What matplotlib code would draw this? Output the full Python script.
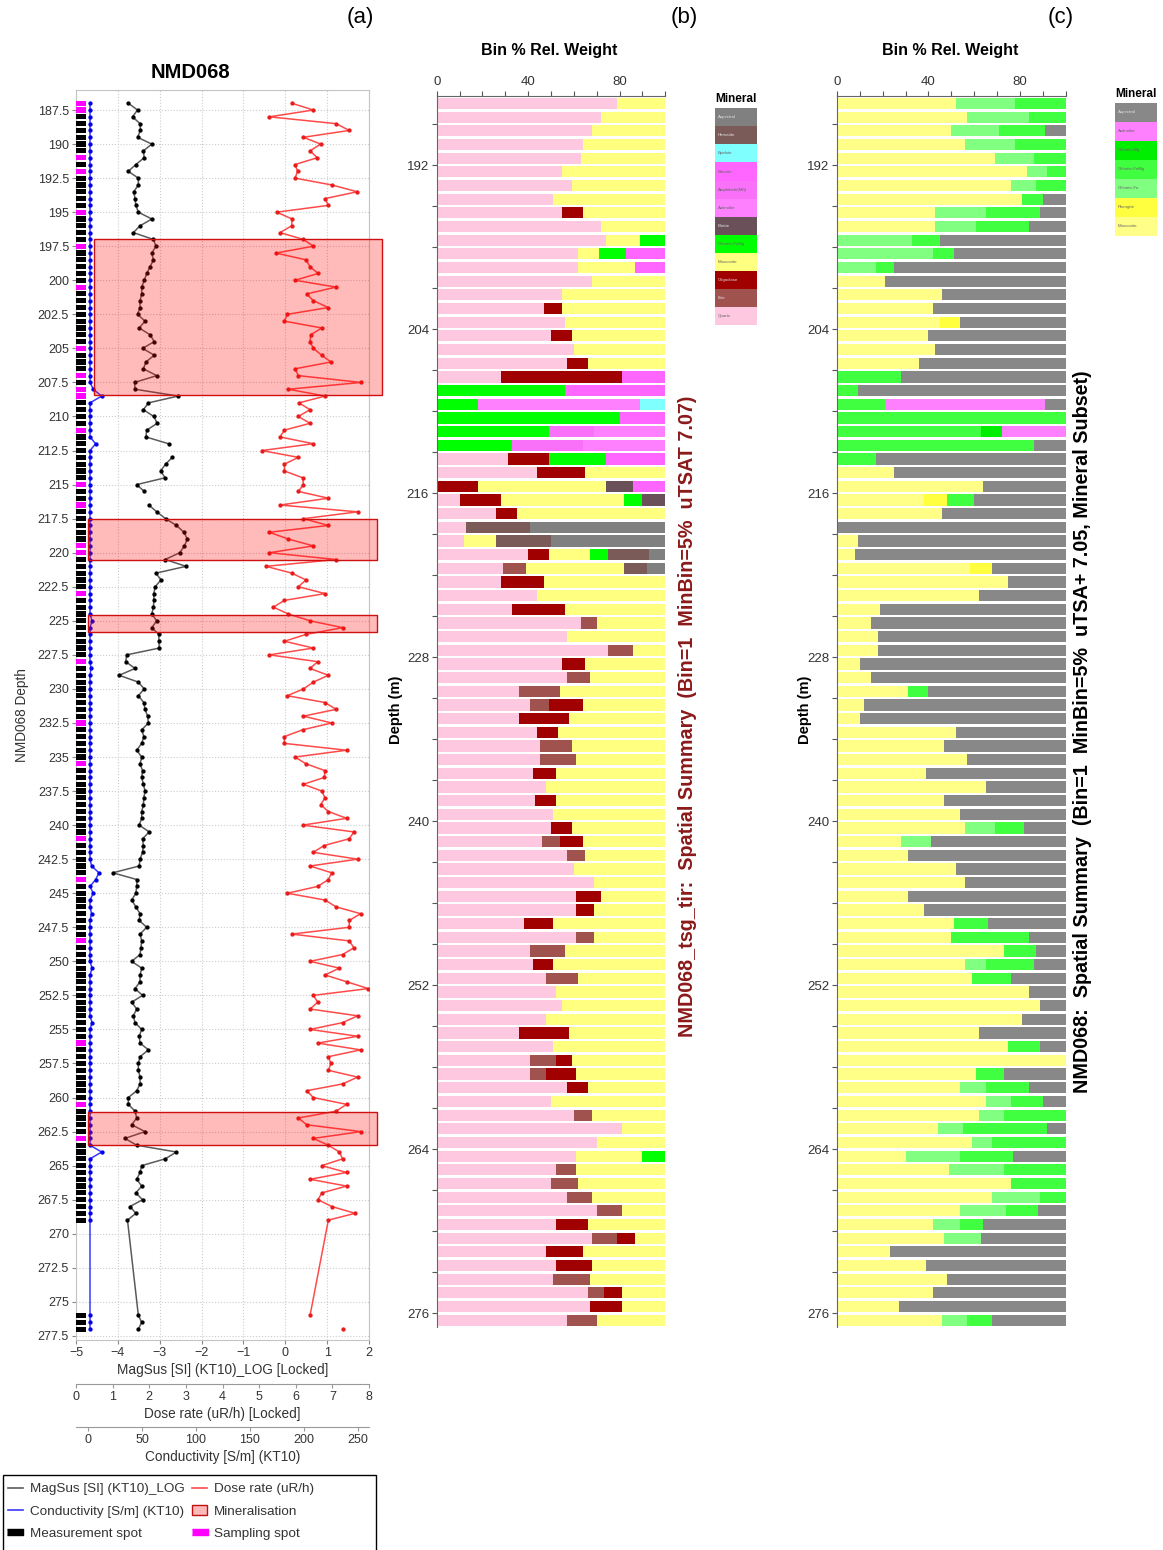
import numpy as np
import matplotlib
matplotlib.use('Agg')
import matplotlib.pyplot as plt
import matplotlib.transforms as mtransforms
from matplotlib.patches import Rectangle, Patch
from matplotlib.lines import Line2D

plt.rcParams['font.family'] = ['Liberation Sans', 'DejaVu Sans']

# ---------------------------------------------------------------------------
# (a) downhole logs, NMD068
# ---------------------------------------------------------------------------
magsus_depth_1 = np.arange(187.0, 212.01, 0.5)
magsus_1 = [-3.75, -3.53, -3.65, -3.47, -3.46, -3.53, -3.19, -3.39, -3.37, -3.57,
            -3.75, -3.51, -3.51, -3.62, -3.59, -3.57, -3.51, -3.19, -3.47, -3.63,
            -3.15, -3.09, -3.19, -3.15, -3.23, -3.31, -3.37, -3.43, -3.43, -3.47,
            -3.47, -3.53, -3.35, -3.49, -3.23, -3.13, -3.41, -3.13, -3.33, -3.39,
            -3.07, -3.60, -3.59, -2.56, -3.27, -3.39, -3.14, -3.06, -3.31, -3.33,
            -2.79]
magsus_depth_2 = np.arange(213.0, 215.51, 0.5)
magsus_2 = [-2.70, -2.86, -2.98, -2.87, -3.55, -3.37]
magsus_depth_3 = np.concatenate([np.arange(216.5, 269.01, 0.5), [276.0, 276.5, 277.0]])
magsus_3 = [-3.26, -3.07, -2.86, -2.60, -2.42, -2.34, -2.41, -2.52, -2.87, -2.37,
            -3.09, -2.97, -3.11, -3.14, -3.14, -3.15, -3.19, -3.07, -3.19, -3.02,
            -3.02, -3.01, -3.79, -3.81, -3.59, -3.97, -3.51, -3.37, -3.51, -3.38,
            -3.35, -3.29, -3.27, -3.43, -3.38, -3.43, -3.55, -3.43, -3.47, -3.41,
            -3.43, -3.39, -3.35, -3.38, -3.39, -3.43, -3.43, -3.49, -3.25, -3.41,
            -3.39, -3.41, -3.47, -3.49, -4.12, -3.54, -3.55, -3.57, -3.67, -3.57,
            -3.47, -3.49, -3.31, -3.47, -3.43, -3.45, -3.47, -3.67, -3.43, -3.47,
            -3.47, -3.59, -3.41, -3.67, -3.55, -3.63, -3.59, -3.43, -3.49, -3.47,
            -3.27, -3.47, -3.51, -3.51, -3.47, -3.47, -3.55, -3.75, -3.75, -3.59,
            -3.55, -3.67, -3.35, -3.83, -3.55, -2.60, -2.87, -3.43, -3.47, -3.55,
            -3.43, -3.57, -3.41, -3.71, -3.57, -3.77,
            -3.51, -3.43, -3.51]

dose_depth = np.concatenate([np.arange(187.0, 269.01, 0.5), [276.0]])
dose = [5.89, 6.48, 5.28, 7.10, 7.46, 6.21, 6.68, 6.39, 6.59, 5.98,
        6.05, 5.98, 6.98, 7.68, 6.80, 6.89, 5.48, 5.90, 5.89, 5.57,
        6.21, 6.48, 5.46, 6.28, 6.39, 6.61, 5.98, 7.10, 6.30, 6.48,
        6.89, 5.77, 5.69, 6.71, 6.41, 6.39, 6.48, 6.71, 6.96, 5.98,
        6.07, 7.78, 5.80,
        6.80, 6.09, 6.39, 6.07, 6.39, 5.69, 5.57, 6.48, 5.07, 6.07,
        5.69, 5.69, 6.19, 6.21, 6.07, 6.89, 5.57, 7.69, 6.21, 6.89,
        5.28, 5.80, 6.48, 5.28, 7.10, 5.19, 5.89, 6.28, 6.07, 6.80,
        5.69, 5.39, 5.80, 6.39, 7.28, 6.28, 5.69, 6.48, 5.28, 6.60,
        6.39, 6.89, 6.48, 6.21, 5.77, 6.80, 7.10, 6.21, 6.98, 6.19,
        5.69, 5.69, 7.39, 5.98,
        6.28, 6.80, 6.78,
        6.21, 6.71, 6.80, 6.68, 6.89, 7.39, 6.19, 7.59, 7.46, 6.77,
        6.48, 7.69, 6.39, 6.98, 6.89, 6.60, 5.77, 6.80, 7.10, 7.77,
        7.46, 7.46, 5.89, 7.46, 7.59, 7.28, 6.39, 7.19, 6.80, 7.39,
        7.98, 6.48, 6.60, 6.39, 7.69, 7.28, 6.39, 7.69, 6.60, 7.77,
        6.89, 6.96, 6.89, 7.69, 7.28, 6.30, 6.48, 7.39, 7.10, 6.07,
        6.30, 7.78, 6.48, 6.89, 7.19, 7.28, 6.71, 7.39, 6.39,
        7.39, 6.71, 6.61, 6.98, 7.62, 6.89,
        6.39]
dose_lone_depth = [277.0]
dose_lone = [7.28]

cond_depth = np.concatenate([np.arange(187.0, 269.01, 0.5), [276.0, 276.5, 277.0]])
cond = [1.6, 1.6, 1.6, 1.6, 1.6, 1.6, 1.6, 1.6, 1.6, 1.6,
        1.6, 1.6, 1.6, 1.6, 1.6, 1.6, 1.6, 1.6, 1.6, 1.6,
        1.6, 1.6, 1.6, 1.6, 1.6, 1.6, 1.6, 1.6, 1.6, 1.6,
        1.6, 1.6, 1.6, 1.6, 1.6, 1.6, 1.6, 1.6, 1.6, 1.6,
        1.6, 1.6, 4.6, 12.4, 1.6, 1.6, 1.6, 1.6, 1.6, 1.6,
        6.8, 1.6, 1.6, 1.6, 1.6, 1.6, 1.6, 1.6, 1.6, 1.6,
        1.6, 1.6, 1.6, 1.6, 1.6, 1.6, 1.6, 1.6, 1.6, 1.6,
        1.6, 1.6, 1.6, 1.6, 1.6, 1.6, 3.5, 1.6, 1.6, 1.6,
        1.6, 1.6, 1.6, 2.5, 1.6, 1.6, 1.6, 1.6, 1.6, 1.6,
        1.6, 1.6, 1.6, 1.6, 1.6, 1.6, 1.6, 1.6, 1.6, 1.6,
        1.6, 1.6, 1.6, 1.6, 1.6, 1.6, 1.6, 1.6, 1.6, 1.6,
        1.6, 1.6, 3.1, 9.9, 6.8, 1.6, 4.6, 1.6, 1.6, 3.0,
        1.6, 1.6, 1.6, 1.6, 1.6, 1.6, 1.6, 3.5, 1.6, 1.6,
        1.6, 1.6, 1.6, 1.6, 1.6, 3.5, 1.6, 1.6, 1.6, 1.6,
        1.6, 1.6, 1.6, 1.6, 1.6, 1.6, 1.6, 1.6, 1.6, 1.6,
        1.6, 1.6, 1.6, 1.6, 12.4, 1.6, 1.6, 1.6, 1.6, 1.6,
        1.6, 1.6, 1.6, 1.6, 1.6,
        1.6, 1.6, 1.6]

spot_depth = cond_depth
sample_depth = [187.0, 187.5, 191.0, 192.0, 195.0, 197.5, 200.5, 205.0, 207.0, 208.0,
                208.5, 211.0, 215.0, 216.5, 219.5, 220.0, 223.0, 228.0, 232.5, 235.5,
                241.0, 244.0, 248.5, 256.0, 260.5, 263.0]

mineral_top = [197.0, 217.55, 224.6, 261.05]
mineral_bottom = [208.4, 220.5, 225.85, 263.5]

# ---------------------------------------------------------------------------
# (b) TIR spatial summary, (c) SWIR mineral subset: 1 m bins from 187 m
# ---------------------------------------------------------------------------
bin_depth = np.arange(187.5, 277.0, 1.0)

tir_names = ['Aspectral', 'Hematite', 'Epidote', 'Edenite', 'Amphibole(Mlt)', 'Actinolite',
             'Biotite', 'Chlorite-FeMg', 'Muscovite', 'Oligoclase', 'Illite', 'Quartz']
tir_codes = ['X', 'H', 'P', 'E', 'A', 'T', 'B', 'C', 'M', 'O', 'I', 'Q']
tir_colours = ['#808080', '#7b5b57', '#80ffff', '#ff66ff', '#f970f9', '#ff80ff',
               '#6a5058', '#00ff00', '#ffff80', '#a00000', '#a0524f', '#ffc8e1']

tir_rows = [
    [('Q', 79), ('M', 21)], [('Q', 72), ('M', 28)], [('Q', 68), ('M', 32)],
    [('Q', 64), ('M', 36)], [('Q', 63), ('M', 37)], [('Q', 55), ('M', 45)],
    [('Q', 59), ('M', 41)], [('Q', 51), ('M', 49)], [('Q', 55), ('O', 9), ('M', 36)],
    [('Q', 72), ('M', 28)], [('Q', 74), ('M', 15), ('C', 11)],
    [('Q', 62), ('M', 9), ('C', 12), ('E', 17)], [('Q', 62), ('M', 25), ('E', 13)],
    [('Q', 68), ('M', 32)], [('Q', 55), ('M', 45)], [('Q', 47), ('O', 8), ('M', 45)],
    [('Q', 56), ('M', 44)], [('Q', 50), ('O', 9), ('M', 41)], [('Q', 60), ('M', 40)],
    [('Q', 57), ('O', 9), ('M', 34)], [('Q', 28), ('O', 53), ('E', 19)],
    [('C', 56), ('E', 44)], [('C', 18), ('T', 71), ('P', 11)], [('C', 80), ('E', 20)],
    [('C', 49), ('A', 20), ('T', 31)], [('C', 33), ('A', 31), ('T', 36)],
    [('Q', 31), ('O', 18), ('C', 25), ('E', 26)], [('Q', 44), ('O', 21), ('M', 35)],
    [('O', 18), ('M', 56), ('B', 12), ('E', 14)],
    [('Q', 10), ('O', 18), ('M', 54), ('C', 8), ('B', 10)],
    [('Q', 26), ('O', 9), ('M', 65)], [('Q', 13), ('H', 28), ('X', 59)],
    [('Q', 12), ('M', 14), ('H', 24), ('X', 50)],
    [('Q', 40), ('O', 9), ('M', 18), ('C', 8), ('H', 18), ('X', 7)],
    [('Q', 29), ('I', 10), ('M', 43), ('H', 10), ('X', 8)],
    [('Q', 28), ('O', 19), ('M', 53)], [('Q', 44), ('M', 56)],
    [('Q', 33), ('O', 23), ('M', 44)], [('Q', 63), ('I', 7), ('M', 30)],
    [('Q', 57), ('M', 43)], [('Q', 75), ('I', 11), ('M', 14)],
    [('Q', 55), ('O', 10), ('M', 35)], [('Q', 57), ('I', 10), ('M', 33)],
    [('Q', 36), ('I', 18), ('M', 46)], [('Q', 41), ('I', 8), ('O', 15), ('M', 36)],
    [('Q', 36), ('O', 22), ('M', 42)], [('Q', 44), ('O', 9), ('M', 47)],
    [('Q', 45), ('I', 14), ('M', 41)], [('Q', 45), ('I', 16), ('M', 39)],
    [('Q', 42), ('O', 10), ('M', 48)], [('Q', 48), ('M', 52)],
    [('Q', 43), ('O', 9), ('M', 48)], [('Q', 51), ('M', 49)],
    [('Q', 50), ('O', 9), ('M', 41)], [('Q', 46), ('I', 8), ('O', 10), ('M', 36)],
    [('Q', 57), ('I', 8), ('M', 35)], [('Q', 60), ('M', 40)], [('Q', 69), ('M', 31)],
    [('Q', 61), ('O', 11), ('M', 28)], [('Q', 61), ('O', 8), ('M', 31)],
    [('Q', 38), ('O', 13), ('M', 49)], [('Q', 61), ('I', 8), ('M', 31)],
    [('Q', 41), ('I', 15), ('M', 44)], [('Q', 42), ('O', 9), ('M', 49)],
    [('Q', 48), ('I', 14), ('M', 38)], [('Q', 52), ('M', 48)], [('Q', 55), ('M', 45)],
    [('Q', 48), ('M', 52)], [('Q', 36), ('O', 22), ('M', 42)], [('Q', 51), ('M', 49)],
    [('Q', 41), ('I', 11), ('O', 7), ('M', 41)], [('Q', 41), ('I', 7), ('O', 13), ('M', 39)],
    [('Q', 57), ('O', 9), ('M', 34)], [('Q', 50), ('M', 50)],
    [('Q', 60), ('I', 8), ('M', 32)], [('Q', 81), ('M', 19)], [('Q', 70), ('M', 30)],
    [('Q', 61), ('M', 29), ('C', 10)], [('Q', 52), ('I', 9), ('M', 39)],
    [('Q', 50), ('I', 12), ('M', 38)], [('Q', 57), ('I', 11), ('M', 32)],
    [('Q', 70), ('I', 11), ('M', 19)], [('Q', 52), ('O', 14), ('M', 34)],
    [('Q', 68), ('I', 11), ('O', 8), ('M', 13)], [('Q', 48), ('O', 16), ('M', 36)],
    [('Q', 52), ('O', 16), ('M', 32)], [('Q', 51), ('I', 16), ('M', 33)],
    [('Q', 66), ('I', 7), ('O', 8), ('M', 19)], [('Q', 67), ('O', 14), ('M', 19)],
    [('Q', 57), ('I', 13), ('M', 30)],
]

swir_names = ['Aspectral', 'Actinolite', 'Chlorite-Mg', 'Chlorite-FeMg', 'Chlorite-Fe',
              'Phengite', 'Muscovite']
swir_codes = ['X', 'T', 'G', 'F', 'L', 'P', 'M']
swir_colours = ['#888888', '#ff80ff', '#00ee00', '#40ff40', '#80ff80', '#ffff40', '#ffff88']

swir_rows = [
    [('M', 52), ('L', 26), ('F', 22)], [('M', 57), ('L', 27), ('F', 16)],
    [('M', 50), ('L', 21), ('F', 20), ('X', 9)], [('M', 56), ('L', 22), ('F', 22)],
    [('M', 69), ('L', 17), ('F', 14)], [('M', 83), ('L', 9), ('F', 8)],
    [('M', 76), ('L', 11), ('F', 13)], [('M', 81), ('F', 9), ('X', 10)],
    [('M', 43), ('L', 22), ('F', 24), ('X', 11)], [('M', 43), ('L', 18), ('F', 23), ('X', 16)],
    [('L', 33), ('F', 12), ('X', 55)], [('L', 42), ('F', 9), ('X', 49)],
    [('L', 17), ('F', 8), ('X', 75)], [('M', 21), ('X', 79)], [('M', 46), ('X', 54)],
    [('M', 42), ('X', 58)], [('M', 45), ('P', 9), ('X', 46)], [('M', 40), ('X', 60)],
    [('M', 43), ('X', 57)], [('M', 36), ('X', 64)], [('F', 28), ('X', 72)],
    [('F', 9), ('X', 91)], [('F', 21), ('T', 70), ('X', 9)], [('F', 100)],
    [('F', 63), ('G', 9), ('T', 28)], [('F', 86), ('X', 14)], [('F', 17), ('X', 83)],
    [('M', 25), ('X', 75)], [('M', 64), ('X', 36)],
    [('M', 38), ('P', 10), ('F', 12), ('X', 40)], [('M', 46), ('X', 54)], [('X', 100)],
    [('M', 9), ('X', 91)], [('M', 8), ('X', 92)], [('M', 58), ('P', 10), ('X', 32)],
    [('M', 75), ('X', 25)], [('M', 62), ('X', 38)], [('M', 19), ('X', 81)],
    [('M', 15), ('X', 85)], [('M', 18), ('X', 82)], [('M', 18), ('X', 82)],
    [('M', 10), ('X', 90)], [('M', 15), ('X', 85)], [('M', 31), ('F', 9), ('X', 60)],
    [('M', 12), ('X', 88)], [('M', 10), ('X', 90)], [('M', 52), ('X', 48)],
    [('M', 47), ('X', 53)], [('M', 57), ('X', 43)], [('M', 39), ('X', 61)],
    [('M', 65), ('X', 35)], [('M', 47), ('X', 53)], [('M', 54), ('X', 46)],
    [('M', 56), ('L', 13), ('F', 13), ('X', 18)], [('M', 28), ('L', 13), ('X', 59)],
    [('M', 31), ('X', 69)], [('M', 52), ('X', 48)], [('M', 56), ('X', 44)],
    [('M', 31), ('X', 69)], [('M', 38), ('X', 62)], [('M', 51), ('F', 15), ('X', 34)],
    [('M', 50), ('F', 34), ('X', 16)], [('M', 73), ('F', 14), ('X', 13)],
    [('M', 56), ('L', 9), ('F', 21), ('X', 14)], [('M', 59), ('F', 17), ('X', 24)],
    [('M', 84), ('X', 16)], [('M', 89), ('X', 11)], [('M', 81), ('X', 19)],
    [('M', 62), ('X', 38)], [('M', 75), ('F', 14), ('X', 11)], [('M', 100)],
    [('M', 61), ('F', 12), ('X', 27)], [('M', 54), ('L', 11), ('F', 19), ('X', 16)],
    [('M', 65), ('L', 11), ('F', 14), ('X', 10)], [('M', 62), ('L', 11), ('F', 27)],
    [('M', 44), ('L', 11), ('F', 37), ('X', 8)], [('M', 59), ('L', 9), ('F', 32)],
    [('M', 30), ('L', 24), ('F', 23), ('X', 23)], [('M', 49), ('L', 24), ('F', 27)],
    [('M', 76), ('F', 24)], [('M', 68), ('L', 21), ('F', 11)],
    [('M', 54), ('L', 20), ('F', 14), ('X', 12)], [('M', 42), ('L', 12), ('F', 10), ('X', 36)],
    [('M', 47), ('L', 16), ('X', 37)], [('M', 23), ('X', 77)], [('M', 39), ('X', 61)],
    [('M', 48), ('X', 52)], [('M', 42), ('X', 58)], [('M', 27), ('X', 73)],
    [('M', 46), ('L', 11), ('F', 11), ('X', 32)],
]

# ---------------------------------------------------------------------------
W, H = 1163, 1550
fig = plt.figure(figsize=(W / 100, H / 100), dpi=100)


def box(x0, y0, x1, y1):
    # pixel box (top-left origin) -> figure rect
    return [x0 / W, 1 - y1 / H, (x1 - x0) / W, (y1 - y0) / H]


TXT = '#333333'

# ---------------- panel (a) ----------------
ax = fig.add_axes(box(76, 90, 369, 1340))
ax.set_xlim(-5, 2)
ax.set_ylim(277.8, 186.03)
ax.set_xticks(range(-5, 3))
ax.set_yticks(np.arange(187.5, 277.6, 2.5))
ax.set_yticklabels([f'{v:g}' for v in np.arange(187.5, 277.6, 2.5)])
ax.grid(True, ls=':', color='#cccccc', lw=0.8)
ax.set_axisbelow(True)
ax.tick_params(labelsize=9, labelcolor=TXT, length=3, color='#888888', pad=2)
for s in ax.spines.values():
    s.set_color('#c4c4c4')
ax.set_xlabel('MagSus [SI] (KT10)_LOG [Locked]', fontsize=9.8, color=TXT, labelpad=3)
ax.set_ylabel('NMD068 Depth', fontsize=9.8, color=TXT, labelpad=6)

# measurement / sampling spots
ax.barh(spot_depth, 0.24, left=-5, height=0.38, color='black', zorder=3)
ax.barh(sample_depth, 0.24, left=-5, height=0.38, color='#ff00ff', zorder=4)

for d, v in [(magsus_depth_1, magsus_1), (magsus_depth_2, magsus_2), (magsus_depth_3, magsus_3)]:
    ax.plot(v, d, color='#5a5a5a', lw=1.1, marker='o', ms=2.1, mfc='black', mec='black', zorder=5)

axd = ax.twiny()
axc = ax.twiny()
for a, off, lim, ticks, lab in [(axd, 31.7, (0, 8), range(0, 9), 'Dose rate (uR/h) [Locked]'),
                                (axc, 62.4, (-11.4, 260.5), range(0, 251, 50), 'Conductivity [S/m] (KT10)')]:
    a.set_xlim(*lim)
    a.set_xticks(list(ticks))
    a.xaxis.set_ticks_position('bottom')
    a.xaxis.set_label_position('bottom')
    a.spines['bottom'].set_position(('outward', off))
    a.spines['bottom'].set_color('#999999')
    for s in ['top', 'left', 'right']:
        a.spines[s].set_visible(False)
    a.tick_params(labelsize=9, labelcolor=TXT, length=3, color='#999999', pad=2)
    a.set_xlabel(lab, fontsize=9.8, color=TXT, labelpad=3)

axd.plot(dose, dose_depth, color='#ff4a4a', lw=1.1, marker='o', ms=2.1, mfc='#e81c1c', mec='#e81c1c')
axd.plot(dose_lone, dose_lone_depth, ls='none', marker='o', ms=2.1, color='#e81c1c')
axc.plot(cond, cond_depth, color='#3a3aff', lw=1.1, marker='o', ms=2.1, mfc='#0000ee', mec='#0000ee')

# mineralised intervals, drawn over the curves and past the right edge
trans = mtransforms.blended_transform_factory(axc.transAxes, axc.transData)
box_x = [(0.0625, 1.045), (0.042, 1.026), (0.042, 1.026), (0.042, 1.026)]
for (x0, x1), top, bot in zip(box_x, mineral_top, mineral_bottom):
    axc.add_patch(Rectangle((x0, top), x1 - x0, bot - top, transform=trans, clip_on=False,
                            fc=(1, 0, 0, 0.27), ec='#d01010', lw=1.0, zorder=10))

fig.text(190 / W, 1 - 72 / H, 'NMD068', fontsize=14.5, fontweight='bold', ha='center', va='center')

# legend box runs off the bottom of the page
fig.patches.append(Rectangle((3 / W, -0.01), 373 / W, 0.01 + 1 - 1475 / H,
                             transform=fig.transFigure, fc='white', ec='black', lw=1.0))
spot = [(-1, -0.45), (1, -0.45), (1, 0.45), (-1, 0.45)]
handles = [Line2D([], [], color='#5a5a5a', lw=1.2),
           Line2D([], [], color='#3a3aff', lw=1.2),
           Line2D([], [], ls='none', marker=spot, ms=11, color='black'),
           Line2D([], [], color='#ff4a4a', lw=1.2),
           Patch(fc='#ffb8b8', ec='#c01010', lw=1.0),
           Line2D([], [], ls='none', marker=spot, ms=11, color='#ff00ff')]
labels = ['MagSus [SI] (KT10)_LOG', 'Conductivity [S/m] (KT10)', 'Measurement spot',
          'Dose rate (uR/h)', 'Mineralisation', 'Sampling spot']
leg = fig.legend(handles, labels, loc='upper left', bbox_to_anchor=(8 / W, 1 - 1483 / H),
                 ncol=2, fontsize=9.7, frameon=False, handlelength=1.1,
                 handletextpad=0.5, columnspacing=0.6, labelspacing=0.72, borderpad=0,
                 borderaxespad=0)
for t in leg.get_texts():
    t.set_color(TXT)


# ---------------- panels (b) and (c) ----------------
def summary_panel(x0, rows, codes, colours):
    a = fig.add_axes(box(x0, 95.7, x0 + 228.5, 1327))
    col = dict(zip(codes, colours))
    for yc, row in zip(bin_depth, rows):
        left = 0
        for code, pct in row:
            a.barh(yc, pct, left=left, height=0.82, color=col[code], linewidth=0)
            left += pct
    a.set_xlim(0, 100)
    a.set_ylim(277.0, 186.93)
    a.xaxis.tick_top()
    a.set_xticks([0, 40, 80])
    a.set_xticks(range(0, 101, 10), minor=True)
    a.set_yticks(range(192, 277, 12))
    a.set_yticks(range(189, 277, 3), minor=True)
    a.tick_params(which='both', length=3.5, width=0.8, color='#555555',
                  labelsize=9.5, labelcolor=TXT, pad=2)
    for s in ['right', 'bottom']:
        a.spines[s].set_visible(False)
    for s in ['left', 'top']:
        a.spines[s].set_color('#666666')
        a.spines[s].set_linewidth(0.8)
    return a


def mineral_key(x0, y0, y1, title_y, names, colours):
    k = fig.add_axes(box(x0, y0, x0 + 42, y1))
    k.set_xlim(0, 1)
    k.set_ylim(len(names), 0)
    k.axis('off')
    for i, (n, c) in enumerate(zip(names, colours)):
        k.add_patch(Rectangle((0, i), 1, 1, fc=c, ec='none'))
        dark = c in ('#808080', '#888888', '#7b5b57', '#6a5058', '#a00000', '#a0524f')
        k.text(0.07, i + 0.5, n, fontsize=3.2, va='center', ha='left',
               color='#e0e0e0' if dark else '#666666')
    fig.text((x0 + 21) / W, 1 - title_y / H, 'Mineral', fontsize=8.5, fontweight='bold',
             ha='center', va='center')


summary_panel(436.7, tir_rows, tir_codes, tir_colours)
summary_panel(837.0, swir_rows, swir_codes, swir_colours)
mineral_key(715, 108.3, 325, 99, tir_names, tir_colours)
mineral_key(1115, 102.7, 236, 94, swir_names, swir_colours)

for xc in (549, 950):
    fig.text(xc / W, 1 - 51 / H, 'Bin % Rel. Weight', fontsize=11.5, fontweight='bold',
             ha='center', va='center')
for xc in (396, 805):
    fig.text(xc / W, 1 - 710 / H, 'Depth (m)', fontsize=10.5, fontweight='bold',
             rotation=90, ha='center', va='center')

fig.text(688 / W, 1 - 716 / H,
         'NMD068_tsg_tir:  Spatial Summary  (Bin=1  MinBin=5%  uTSAT 7.07)',
         fontsize=14.2, fontweight='bold', color='#8b1a1a', rotation=90, ha='center', va='center')
fig.text(1083 / W, 1 - 732 / H,
         'NMD068:  Spatial Summary  (Bin=1  MinBin=5%  uTSA+ 7.05, Mineral Subset)',
         fontsize=14.2, fontweight='bold', color='black', rotation=90, ha='center', va='center')

for xc, lab in [(360, '(a)'), (684, '(b)'), (1061, '(c)')]:
    fig.text(xc / W, 1 - 18 / H, lab, fontsize=16, ha='center', va='center')

fig.savefig('out.png', dpi=100)
